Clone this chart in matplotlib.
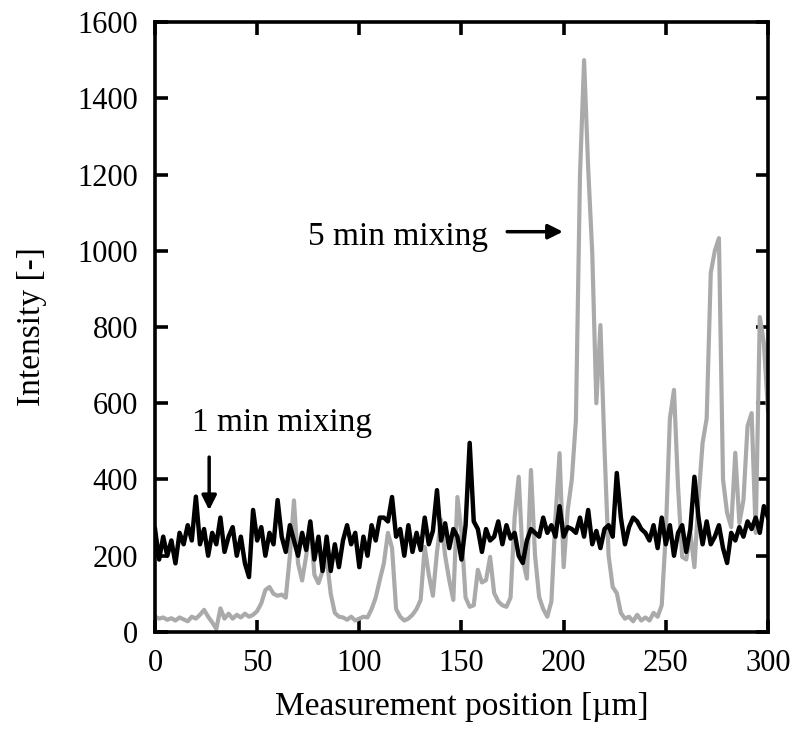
import numpy as np
import matplotlib.pyplot as plt

plt.rcParams['font.family'] = ['Liberation Serif', 'DejaVu Serif']

# measurement positions [um], every 2 um
pos = np.arange(0, 301, 2)

# 5 min mixing (grey)
int_5min = [40, 35, 38, 32, 36, 30, 38, 33, 28, 40,
            35, 45, 58, 40, 25, 8, 62, 35, 48, 35,
            45, 38, 48, 40, 45, 55, 75, 110, 118, 100,
            95, 98, 90, 200, 345, 180, 135, 200, 288, 150,
            128, 160, 195, 100, 50, 40, 38, 32, 40, 30,
            35, 40, 38, 60, 90, 136, 180, 260, 220, 60,
            40, 30, 35, 45, 60, 84, 223, 150, 95, 210,
            294, 200, 136, 84, 354, 260, 90, 66, 70, 163,
            130, 136, 197, 102, 80, 70, 66, 90, 300, 407,
            190, 140, 425, 200, 92, 60, 40, 80, 300, 469,
            170, 320, 400, 556, 1200, 1500, 1217, 994, 600, 805,
            480, 200, 118, 102, 50, 35, 40, 28, 45, 30,
            38, 30, 50, 40, 70, 260, 560, 635, 380, 197,
            190, 260, 170, 350, 496, 560, 942, 1000, 1033, 400,
            312, 275, 470, 286, 346, 540, 574, 260, 826, 758,
            580]

# 1 min mixing (black)
int_1min = [270, 190, 250, 200, 240, 180, 260, 230, 280, 240,
            355, 230, 270, 200, 260, 230, 300, 210, 250, 275,
            200, 250, 180, 144, 320, 240, 275, 200, 260, 230,
            346, 250, 210, 280, 240, 200, 260, 215, 290, 190,
            250, 160, 250, 160, 230, 170, 240, 280, 230, 260,
            170, 250, 200, 280, 240, 300, 300, 290, 354, 250,
            270, 200, 280, 210, 260, 215, 300, 230, 265, 372,
            240, 285, 220, 270, 250, 190, 280, 496, 290, 270,
            210, 270, 240, 250, 290, 230, 280, 245, 260, 200,
            181, 240, 270, 260, 250, 300, 260, 280, 250, 330,
            250, 275, 270, 260, 300, 250, 320, 230, 265, 220,
            270, 280, 250, 417, 300, 230, 275, 300, 290, 270,
            260, 240, 280, 220, 300, 230, 280, 200, 260, 280,
            210, 270, 407, 300, 230, 290, 230, 250, 280, 220,
            181, 260, 240, 275, 250, 290, 270, 300, 260, 330,
            300]

fig = plt.figure(figsize=(7.95, 7.47), dpi=100)
ax = fig.add_axes([0.195, 0.154, 0.771, 0.8165])

ax.plot(pos, int_5min, color='#aaaaaa', lw=3)
ax.plot(pos, int_1min, color='black', lw=3.2)

ax.set_xlim(0, 300)
ax.set_ylim(0, 1600)
ax.set_xticks(np.arange(0, 301, 50))
ax.set_yticks(np.arange(0, 1601, 200))
ax.tick_params(direction='in', length=9, width=2.6, labelsize=22,
               top=True, right=True)
ax.tick_params(axis='x', pad=12)
ax.tick_params(axis='y', pad=12)
for s in ax.spines.values():
    s.set_linewidth(2.6)

ax.set_xlabel('Measurement position [\u00b5m]', fontsize=24, labelpad=10)
ax.set_ylabel('Intensity [-]', fontsize=24, labelpad=22)

ax.text(163, 1036, '5 min mixing', fontsize=24, ha='right', va='center')
ax.annotate('', xy=(201, 1050), xytext=(171, 1050),
            arrowprops=dict(arrowstyle='-|>', color='black', lw=2.5,
                            mutation_scale=22))
ax.text(18, 548, '1 min mixing', fontsize=24, ha='left', va='center')
ax.annotate('', xy=(26.5, 312), xytext=(26.5, 466),
            arrowprops=dict(arrowstyle='-|>', color='black', lw=2.5,
                            mutation_scale=22))

fig.savefig('out.png', dpi=100)
